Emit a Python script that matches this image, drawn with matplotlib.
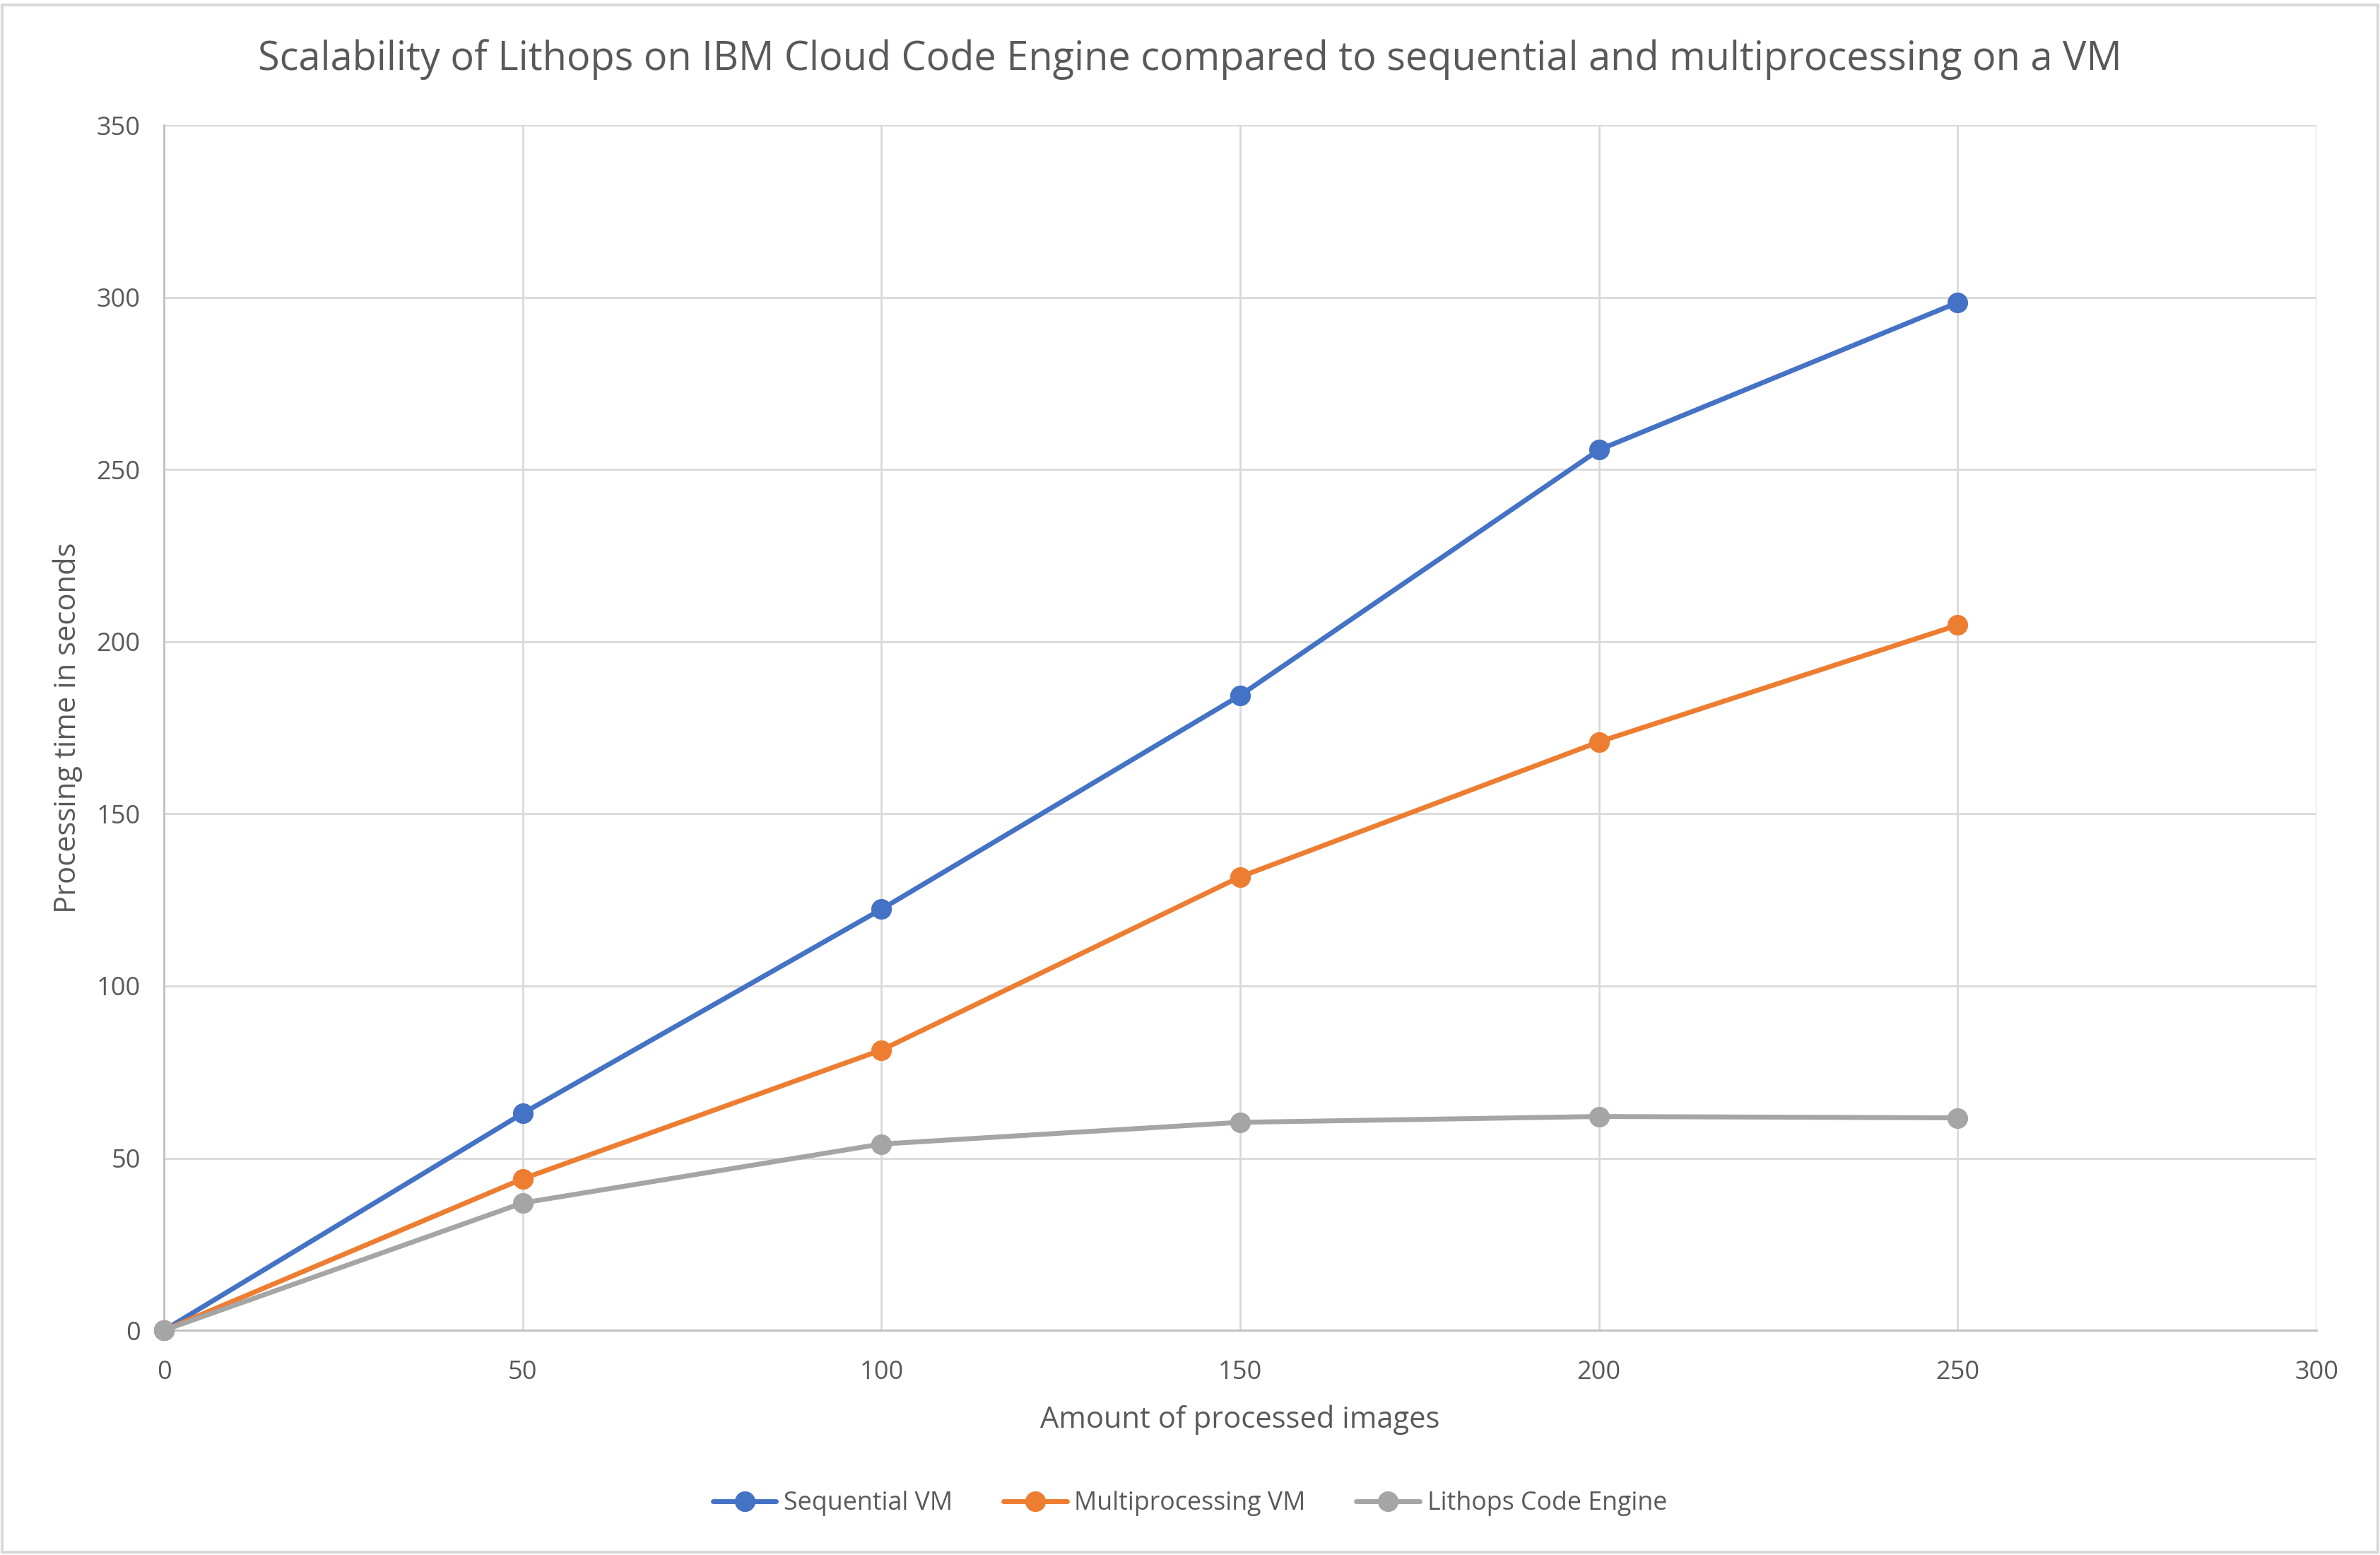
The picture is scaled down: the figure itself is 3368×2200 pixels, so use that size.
import matplotlib
matplotlib.use("Agg")
import matplotlib.pyplot as plt
from matplotlib.patches import Rectangle

images = [0, 50, 100, 150, 200, 250]
sequential_vm = [0, 63.0, 122.3, 184.4, 255.7, 298.5]
multiprocessing_vm = [0, 44.0, 81.4, 131.7, 170.9, 204.8]
lithops_code_engine = [0, 37.0, 54.1, 60.4, 62.1, 61.7]

series_names = ["Sequential VM", "Multiprocessing VM", "Lithops Code Engine"]
colors = ["#4472C4", "#ED7D31", "#A5A5A5"]
x_ticks = [0, 50, 100, 150, 200, 250, 300]
y_ticks = [0, 50, 100, 150, 200, 250, 300, 350]

plt.rcParams['font.family'] = ['Open Sans', 'DejaVu Sans']
text_color = "#595959"
grid_color = "#D9D9D9"

fig = plt.figure(figsize=(16.84, 11.0), dpi=200)
ax = fig.add_axes([0.0689, 0.1445, 0.9044, 0.7750])

for vals, name, c in zip([sequential_vm, multiprocessing_vm, lithops_code_engine], series_names, colors):
    ax.plot(images, vals, color=c, linewidth=2.5, marker='o', markersize=9.5,
            label=name, solid_capstyle='round', clip_on=False, zorder=3)

ax.set_xlim(0, 300)
ax.set_ylim(0, 350)
ax.set_xticks(x_ticks)
ax.set_yticks(y_ticks)
ax.grid(True, color=grid_color, linewidth=1.0)
ax.set_axisbelow(True)
for s in ["top", "right"]:
    ax.spines[s].set_visible(False)
for s in ["left", "bottom"]:
    ax.spines[s].set_color("#BFBFBF")
    ax.spines[s].set_linewidth(1.0)
ax.tick_params(axis='y', length=0, labelsize=13, labelcolor=text_color, pad=12)
ax.tick_params(axis='x', length=0, labelsize=13, labelcolor=text_color, pad=15)

ax.set_xlabel("Amount of processed images", fontsize=15, color=text_color, labelpad=10)
ax.set_ylabel("Processing time in seconds", fontsize=15, color=text_color, labelpad=7)

fig.text(0.5, 0.962, "Scalability of Lithops on IBM Cloud Code Engine compared to sequential and multiprocessing on a VM",
         ha='center', va='center', fontsize=20.1, color=text_color)

fig.legend(loc='center', bbox_to_anchor=(0.5, 0.033), ncol=3, frameon=False,
           fontsize=12.9, labelcolor=text_color, handlelength=2.5, columnspacing=2.0,
           handletextpad=0.3)

fig.patches.append(Rectangle((0.001, 0.002), 0.998, 0.995, transform=fig.transFigure,
                             fill=False, edgecolor=grid_color, linewidth=1.5))

fig.savefig("out.png", dpi=200, facecolor="white")
